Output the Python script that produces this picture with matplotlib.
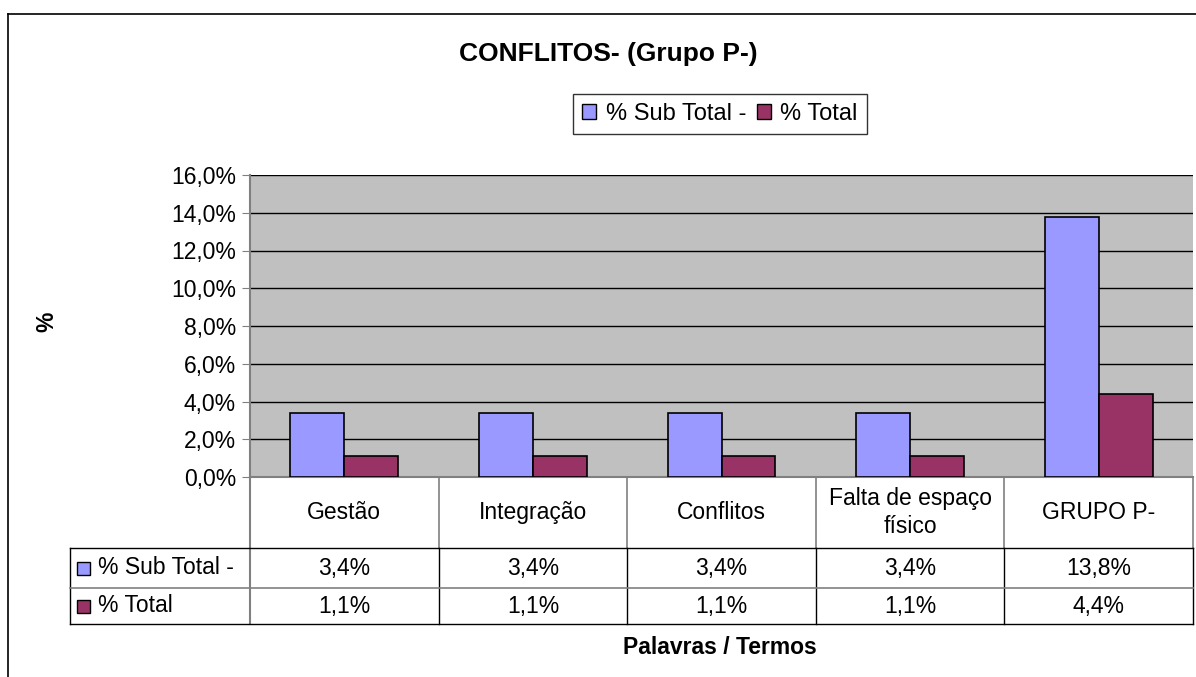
import matplotlib.pyplot as plt
import numpy as np
from matplotlib.patches import Patch, Rectangle
from matplotlib.lines import Line2D
from matplotlib.ticker import FuncFormatter
import matplotlib.transforms as mtransforms

plt.rcParams.update({
    "font.family": ["Liberation Sans", "DejaVu Sans"],
    "font.size": 16.5,
})

# --- data ---
categories = ["Gestão", "Integração", "Conflitos", "Falta de espaço\nfísico", "GRUPO P-"]
series_names = ["% Sub Total -", "% Total"]
sub_total = [3.4, 3.4, 3.4, 3.4, 13.8]
total = [1.1, 1.1, 1.1, 1.1, 4.4]

c_sub = "#9999FF"
c_tot = "#993366"

W, H = 1196, 677
fig = plt.figure(figsize=(W / 100, H / 100), dpi=100)


def px(x, y):
    # pixel (from top-left) to figure fraction
    return x / W, 1 - y / H


# plot area
x0, y0, x1, y1 = 250, 175, 1193, 477
ax = fig.add_axes([x0 / W, 1 - y1 / H, (x1 - x0) / W, (y1 - y0) / H])
ax.set_facecolor("#C0C0C0")

x = np.arange(len(categories))
w = 1 / 3.5
ax.bar(x - w / 2, sub_total, w, color=c_sub, edgecolor="black", linewidth=1.2, zorder=3)
ax.bar(x + w / 2, total, w, color=c_tot, edgecolor="black", linewidth=1.2, zorder=3)

ax.set_xlim(-0.5, len(categories) - 0.5)
ax.set_ylim(0, 16)
ax.set_yticks(np.arange(0, 16.1, 2))
ax.yaxis.set_major_formatter(FuncFormatter(lambda v, p: f"{v:.1f}%".replace(".", ",")))
ax.grid(axis="y", color="black", linewidth=1)
ax.set_axisbelow(True)
ax.set_xticks([])
ax.tick_params(axis="y", direction="out", length=6, color="#808080", pad=4, labelsize=16.5)
for s in ["top", "right"]:
    ax.spines[s].set_visible(False)
ax.spines["left"].set_color("#808080")
ax.spines["bottom"].set_color("#808080")
ax.spines["left"].set_linewidth(1.5)
ax.spines["bottom"].set_linewidth(1.5)

# --- data table under the axis ---
trans = mtransforms.blended_transform_factory(ax.transData, ax.transAxes)
ph = y1 - y0


def ya(ypix):
    return (y1 - ypix) / ph


r_cat, r1, r2 = ya(548), ya(588), ya(624)
x_left = (70 - x0) / ((x1 - x0) / len(categories)) - 0.5
n = len(categories)

# vertical column lines
ax.plot([-0.5, -0.5], [0, r2], color="#808080", lw=1.5, transform=trans, clip_on=False)
for b in np.arange(0.5, n - 0.5, 1.0):
    ax.plot([b, b], [0, r_cat], color="#808080", lw=1.2, transform=trans, clip_on=False)
    ax.plot([b, b], [r_cat, r2], color="black", lw=1.0, transform=trans, clip_on=False)
ax.plot([n - 0.5, n - 0.5], [0, r_cat], color="#808080", lw=1.2, transform=trans, clip_on=False)
ax.plot([n - 0.5, n - 0.5], [r_cat, r2], color="black", lw=1.0, transform=trans, clip_on=False)
ax.plot([x_left, x_left], [r_cat, r2], color="black", lw=1.0, transform=trans, clip_on=False)
# horizontal row lines
for r in [r_cat, r2]:
    ax.plot([x_left, n - 0.5], [r, r], color="black", lw=1.0, transform=trans, clip_on=False)
ax.plot([x_left, n - 0.5], [r1, r1], color="#808080", lw=1.2, transform=trans, clip_on=False)

# category labels
for i, c in enumerate(categories):
    ax.text(i, (0 + r_cat) / 2, c, ha="center", va="center", transform=trans,
            fontsize=16.5, linespacing=1.3)

# value rows
for vals, yr in [(sub_total, (r_cat + r1) / 2), (total, (r1 + r2) / 2)]:
    for i, v in enumerate(vals):
        ax.text(i, yr, f"{v:.1f}%".replace(".", ","), ha="center", va="center",
                transform=trans, fontsize=16.5)

# row headers with colour keys
for name, col, yr in [(series_names[0], c_sub, (r_cat + r1) / 2),
                      (series_names[1], c_tot, (r1 + r2) / 2)]:
    fy = ax.transAxes.transform((0, yr))
    fy = fig.transFigure.inverted().transform(fy)[1]
    fig.patches.append(Rectangle((77 / W, fy - 6.5 / H), 13 / W, 13 / H, facecolor=col,
                                 edgecolor="black", lw=1, transform=fig.transFigure))
    fig.text(98 / W, fy, name, ha="left", va="center", fontsize=16.5)

# titles and labels
fig.text(*px(608, 54), "CONFLITOS- (Grupo P-)", ha="center", va="center",
         fontsize=19, fontweight="bold")
fig.text(*px(47, 322), "%", ha="center", va="center", rotation=90,
         fontsize=16.5, fontweight="bold")
fig.text(*px(720, 647), "Palavras / Termos", ha="center", va="center",
         fontsize=16.5, fontweight="bold")

# legend
handles = [Patch(facecolor=c_sub, edgecolor="black"), Patch(facecolor=c_tot, edgecolor="black")]
leg = fig.legend(handles, series_names, loc="center", bbox_to_anchor=px(720, 114), ncol=2,
                 frameon=True, fancybox=False, edgecolor="black", fontsize=17,
                 handlelength=0.6, handleheight=0.6, handletextpad=0.4, columnspacing=0.45,
                 borderpad=0.4, borderaxespad=0)
leg.get_frame().set_linewidth(1)

# outer chart frame
fig.add_artist(Line2D([8 / W, 8 / W], [0, 1 - 14 / H], color="black", lw=1.2,
                      transform=fig.transFigure))
fig.add_artist(Line2D([8 / W, 1], [1 - 14 / H, 1 - 14 / H], color="black", lw=1.2,
                      transform=fig.transFigure))

fig.savefig("out.png", dpi=100)
